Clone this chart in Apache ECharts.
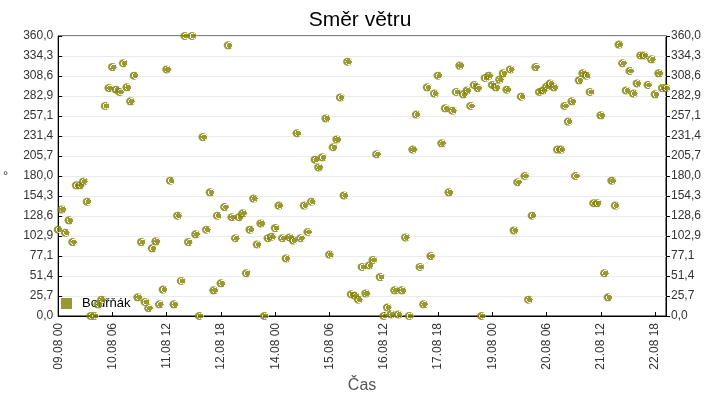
<!DOCTYPE html>
<html>
<head>
<meta charset="utf-8">
<title>Směr větru</title>
<script src="https://cdn.jsdelivr.net/npm/echarts@6/dist/echarts.min.js"></script>
<style>
	html, body {margin:0; padding:0; background:#fff;}
	#vitr {width:720px; height:400px;}
</style>
</head>
<body>
<div id="vitr"></div>
<script>
// mereni po 2 hodinach od 09.08 00:00 do 23.08 00:00
var start = Date.UTC(2018, 7, 9, 0, 0);
var krok = 2;

// smer vetru ve stupnich, po dnech (12 hodnot na den)
var den1 = [111, 137, 107, 123, 95, 168, 168, 173, 147, 0, 0, 15];
var den2 = [21, 270, 293, 320, 291, 288, 325, 294, 276, 309, 24, 95];
var den3 = [18, 10, 87, 96, 15, 34, 317, 174, 15, 129, 45, 360];
var den4 = [95, 360, 105, 0, 230, 111, 159, 33, 129, 42, 140, 348];
var den5 = [127, 100, 127, 132, 55, 111, 151, 92, 119, 0, 100, 102];
var den6 = [113, 142, 100, 74, 101, 97, 235, 100, 142, 108, 147, 201];
var den7 = [191, 204, 254, 79, 217, 227, 281, 155, 327, 28, 26, 21];
var den8 = [63, 29, 65, 72, 208, 50, 0, 11, 2, 33, 2, 33];
var den9 = [101, 0, 214, 259, 63, 15, 294, 77, 286, 309, 222, 267];
var den10 = [159, 264, 288, 322, 285, 290, 270, 297, 293, 0, 306, 309];
var den11 = [297, 294, 304, 312, 291, 317, 110, 172, 282, 180, 21, 129];
var den12 = [320, 288, 290, 295, 299, 294, 214, 214, 270, 250, 276, 180];
var den13 = [303, 312, 309, 288, 145, 145, 258, 55, 24, 174, 142, 349];
var den14 = [325, 290, 315, 286, 299, 335, 335, 297, 330, 285, 312, 293];
var den15 = [293];

var smer = [].concat(den1, den2, den3, den4, den5, den6, den7, den8,
	den9, den10, den11, den12, den13, den14, den15);

function pad(n){
	return n < 10 ? '0' + n : '' + n;
}

function cas_label(h){
	var d = new Date(start + h * 3600 * 1000);
	return pad(d.getUTCDate()) + '.' + pad(d.getUTCMonth() + 1) + ' ' + pad(d.getUTCHours());
}

function stupne_label(v){
	return v.toFixed(1).replace('.', ',');
}

var body = [];
for (var i = 0; i < smer.length; i++) {
	body.push([i * krok, smer[i]]);
}

var vitrChart = echarts.init(document.getElementById('vitr'));
var barva = '#808000';

var option = {
	animation: false,
	textStyle: {fontFamily: 'Liberation Sans, Arial, sans-serif'},
	title: {
		text: 'Směr větru',
		left: 'center',
		top: 5,
		textStyle: {fontSize: 21, fontWeight: 'normal', color: '#000'}
	},
	legend: {
		data: [{name: 'Bouřňák', itemStyle: {color: barva}}],
		left: 61,
		top: 297,
		padding: 0,
		z: 1,
		icon: 'rect',
		itemWidth: 11,
		itemHeight: 11,
		textStyle: {fontSize: 13, color: '#000', padding: [0, 0, 0, 5]}
	},
	grid: {
		left: 55,
		right: 54,
		top: 36,
		height: 280,
		show: true,
		borderColor: '#000',
		borderWidth: 1
	},
	xAxis: {
		type: 'value',
		min: 0,
		max: 336,
		interval: 30,
		name: 'Čas',
		nameLocation: 'middle',
		nameGap: 59,
		nameTextStyle: {fontSize: 16, color: '#555'},
		axisLine: {lineStyle: {color: '#000'}},
		axisTick: {inside: true, length: 4, lineStyle: {color: '#000'}},
		splitLine: {show: false},
		axisLabel: {
			rotate: 90,
			fontSize: 12,
			color: '#333',
			margin: 7,
			showMaxLabel: false,
			formatter: cas_label
		}
	},
	yAxis: [
		{
			type: 'value',
			min: 0,
			max: 360,
			interval: 360 / 14,
			name: '°',
			nameLocation: 'middle',
			nameRotate: 0,
			nameGap: 50,
			nameTextStyle: {fontSize: 13, color: '#333'},
			axisLine: {show: true, lineStyle: {color: '#000'}},
			axisTick: {show: true, inside: true, length: 4, lineStyle: {color: '#000'}},
			splitLine: {lineStyle: {color: '#ebebeb'}},
			axisLabel: {fontSize: 12, color: '#333', margin: 5, formatter: stupne_label}
		},
		{
			type: 'value',
			position: 'right',
			min: 0,
			max: 360,
			interval: 360 / 14,
			axisLine: {show: true, lineStyle: {color: '#000'}},
			axisTick: {show: true, length: 4, lineStyle: {color: '#000'}},
			splitLine: {show: false},
			axisLabel: {fontSize: 12, color: '#333', margin: 5, formatter: stupne_label}
		}
	],
	series: [
		{
			name: 'Bouřňák',
			type: 'scatter',
			symbol: 'circle',
			symbolSize: [9, 8],
			clip: false,
			itemStyle: {
				color: {
					type: 'radial',
					x: 0.64, y: 0.5, r: 0.5,
					colorStops: [
						{offset: 0, color: barva},
						{offset: 0.62, color: barva},
						{offset: 0.64, color: '#ffffff'},
						{offset: 0.76, color: '#ffffff'},
						{offset: 0.78, color: barva},
						{offset: 1, color: barva}
					]
				}
			},
			data: body
		}
	]
};

vitrChart.setOption(option);
</script>
</body>
</html>
